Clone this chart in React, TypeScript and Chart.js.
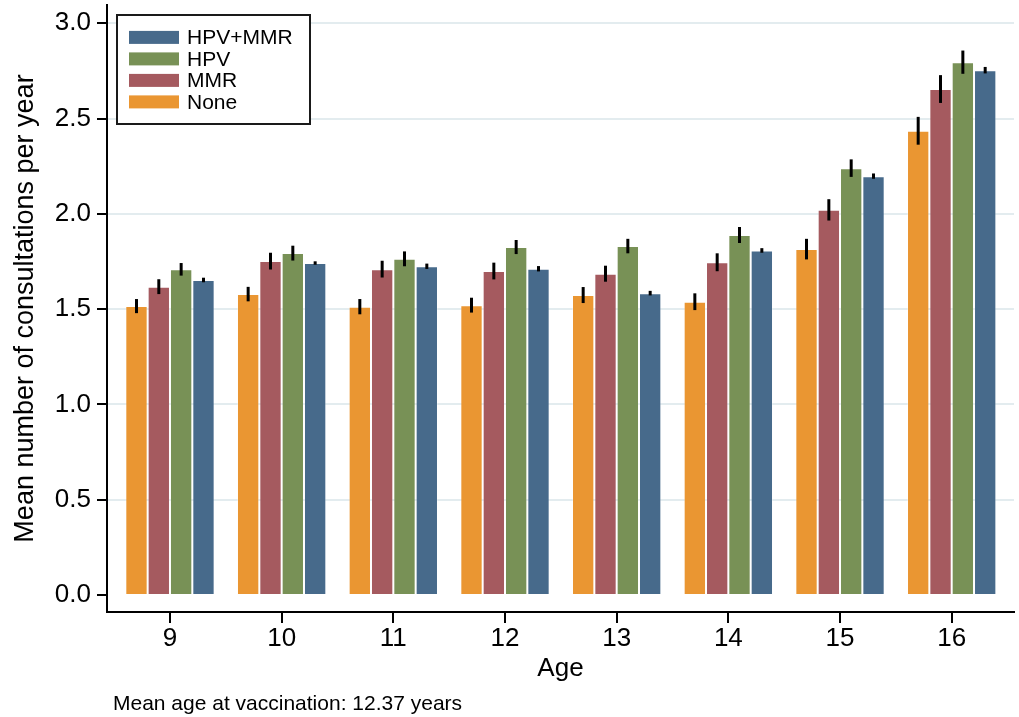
import React, { useEffect, useRef } from "react";
import { Chart, registerables } from "chart.js";

Chart.register(...registerables);

const ages = [9, 10, 11, 12, 13, 14, 15, 16];
const yTickValues = [0, 0.5, 1, 1.5, 2, 2.5, 3];

const noneVals = [1.516, 1.579, 1.513, 1.521, 1.574, 1.539, 1.815, 2.436];
const mmrVals = [1.618, 1.752, 1.71, 1.7, 1.686, 1.746, 2.021, 2.655];
const hpvVals = [1.709, 1.794, 1.764, 1.826, 1.831, 1.889, 2.24, 2.796];
const bothVals = [1.653, 1.742, 1.725, 1.712, 1.584, 1.808, 2.198, 2.754];

const noneErr = [0.037, 0.038, 0.04, 0.039, 0.042, 0.044, 0.054, 0.073];
const mmrErr = [0.039, 0.044, 0.044, 0.044, 0.042, 0.047, 0.056, 0.073];
const hpvErr = [0.033, 0.039, 0.039, 0.037, 0.038, 0.042, 0.046, 0.061];
const bothErr = [0.012, 0.009, 0.014, 0.014, 0.012, 0.012, 0.014, 0.017];

const seriesLabels = ["None", "MMR", "HPV", "HPV+MMR"];
const seriesColors = ["#EA9632", "#A55A5F", "#789156", "#476A8B"];
const seriesVals = [noneVals, mmrVals, hpvVals, bothVals];
const seriesErr = [noneErr, mmrErr, hpvErr, bothErr];

const footnote = "Mean age at vaccination: 12.37 years";
const FONT = "'Liberation Sans', Arial, sans-serif";

const errorBarPlugin = {
  id: "errorBars",
  afterDatasetsDraw(chart: any) {
    const ctx = chart.ctx;
    const yScale = chart.scales.y;
    ctx.save();
    ctx.strokeStyle = "#000";
    ctx.lineWidth = 3;
    chart.data.datasets.forEach((ds: any, di: number) => {
      const meta = chart.getDatasetMeta(di);
      meta.data.forEach((el: any, i: number) => {
        const v = seriesVals[di][i];
        const e = seriesErr[di][i];
        ctx.beginPath();
        ctx.moveTo(el.x, yScale.getPixelForValue(v + e));
        ctx.lineTo(el.x, yScale.getPixelForValue(v - e));
        ctx.stroke();
      });
    });
    ctx.restore();
  },
};

const legendFootPlugin = {
  id: "legendFoot",
  afterDraw(chart: any) {
    const ctx = chart.ctx;
    ctx.save();
    const xs = chart.scales.x;
    const bottom = chart.chartArea.bottom;
    ctx.fillStyle = "#000";
    ages.forEach((a) => {
      const px = Math.round(xs.getPixelForValue(a));
      ctx.fillRect(px - 1, bottom, 2, 11);
    });
    const bx = 117, by = 15, bw = 193, bh = 109;
    ctx.fillStyle = "#fff";
    ctx.fillRect(bx, by, bw, bh);
    ctx.strokeStyle = "#1a1a1a";
    ctx.lineWidth = 2;
    ctx.strokeRect(bx, by, bw, bh);
    const order = [3, 2, 1, 0];
    ctx.font = `21px ${FONT}`;
    ctx.textBaseline = "middle";
    ctx.textAlign = "left";
    order.forEach((di, r) => {
      const cy = 37.4 + r * 21.5;
      ctx.fillStyle = seriesColors[di];
      ctx.fillRect(129, cy - 6.5, 50, 13);
      ctx.fillStyle = "#000";
      ctx.fillText(seriesLabels[di], 187, cy + 1);
    });
    ctx.font = `21px ${FONT}`;
    ctx.textBaseline = "alphabetic";
    ctx.fillStyle = "#000";
    ctx.fillText(footnote, 113, 710);
    ctx.restore();
  },
};

export default function App() {
  const ref = useRef<HTMLCanvasElement | null>(null);
  useEffect(() => {
    if (!ref.current) return;
    Chart.defaults.font.family = FONT;
    const chart = new Chart(ref.current, {
      type: "bar",
      data: {
        datasets: seriesLabels.map((label, di) => ({
          label,
          data: ages.map((a, i) => ({ x: a, y: seriesVals[di][i] })),
          backgroundColor: seriesColors[di],
          borderColor: "rgba(255,255,255,0.3)",
          borderWidth: 1,
          categoryPercentage: 0.8,
          barPercentage: 1.0,
        })),
      },
      options: {
        animation: false,
        responsive: false,
        maintainAspectRatio: false,
        layout: { padding: { top: 5, right: 5, left: 0, bottom: 0 } },
        plugins: {
          legend: { display: false },
          tooltip: { enabled: false },
        },
        scales: {
          x: {
            type: "linear",
            min: 8.436,
            max: 16.558,
            offset: false,
            afterFit: (s: any) => {
              s.height = 105;
              s.paddingLeft = 0;
              s.paddingRight = 0;
            },
            afterBuildTicks: (s: any) => {
              s.ticks = ages.map((v) => ({ value: v }));
            },
            grid: {
              offset: false,
              drawOnChartArea: false,
              drawTicks: true,
              tickLength: 10,
              color: "#000",
              tickColor: "#000",
              lineWidth: 2,
              tickWidth: 2,
            },
            border: { display: true, color: "#000", width: 2 },
            ticks: {
              font: { size: 26 },
              color: "#000",
              padding: 1,
              maxRotation: 0,
              callback: (v: any) => String(v),
            },
            title: {
              display: true,
              text: "Age",
              font: { size: 26 },
              color: "#000",
              padding: { top: 0, bottom: 33 },
            },
          },
          y: {
            type: "linear",
            min: -0.0892,
            max: 3.096,
            afterFit: (s: any) => {
              s.width = 107;
              s.paddingTop = 0;
              s.paddingBottom = 0;
            },
            afterBuildTicks: (s: any) => {
              s.ticks = yTickValues.map((v) => ({ value: v }));
            },
            grid: {
              drawTicks: true,
              tickLength: 10,
              color: (c: any) => (c.tick && c.tick.value === 0 ? "rgba(0,0,0,0)" : "#E3ECEF"),
              tickColor: "#000",
              lineWidth: 2,
              tickWidth: 2,
            },
            border: { display: true, color: "#000", width: 2 },
            ticks: {
              font: { size: 26 },
              color: "#000",
              padding: 6,
              callback: (v: any) => Number(v).toFixed(1),
            },
            title: {
              display: true,
              text: "Mean number of consultations per year",
              font: { size: 27 },
              color: "#000",
              padding: { top: 9, bottom: 0 },
            },
          },
        },
      },
      plugins: [errorBarPlugin, legendFootPlugin],
    });
    return () => chart.destroy();
  }, []);
  return (
    <div style={{ position: "absolute", left: 0, top: 0, width: 1019, height: 717, background: "#fff" }}>
      <canvas ref={ref} width={1019} height={717} />
    </div>
  );
}
